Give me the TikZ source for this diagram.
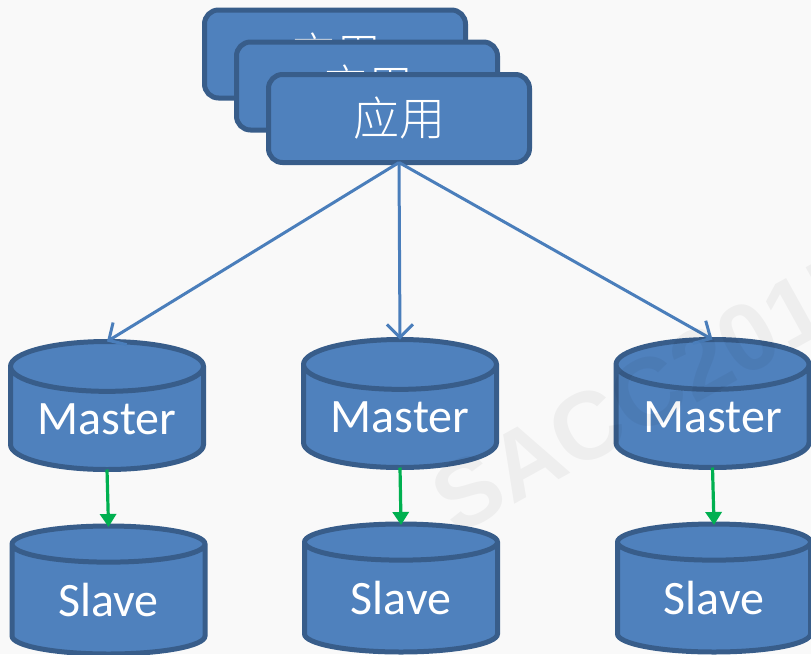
\documentclass[tikz,border=0pt]{standalone}
\usepackage{fontspec}
\setmainfont{Carlito}
\newfontfamily\cjk{Noto Sans CJK SC Light}
\newfontfamily\wm{Liberation Sans}[BoldFont={Liberation Sans Bold}]
\usetikzlibrary{shapes.geometric,arrows.meta}
\definecolor{bfill}{HTML}{4F81BD}
\definecolor{bline}{HTML}{385D8A}
\definecolor{barrow}{HTML}{4A7EBB}
\definecolor{garrow}{HTML}{00B050}
\definecolor{pagebg}{HTML}{F9F9F9}
\tikzset{
  appbox/.style={draw=bline,fill=bfill,line width=5pt,rounded corners=14pt,minimum width=261pt,minimum height=88pt,inner sep=0pt,outer sep=0pt,text=white,font=\cjk\fontsize{46}{46}\selectfont},
  dbcyl/.style={cylinder,shape border rotate=90,aspect=0.36,draw=bline,fill=bfill,line width=5pt,minimum width=193pt,minimum height=128pt,inner sep=0pt,outer sep=0pt,text=white,anchor=shape center,font=\fontsize{48}{48}\selectfont},
  apparrow/.style={draw=barrow,line width=3pt,-{Straight Barb[length=13pt,width=26pt,line width=3pt]}},
  reparrow/.style={draw=garrow,line width=3.2pt,-{Triangle[length=13pt,width=16pt]},shorten >=-1pt}
}
\begin{document}
\begin{tikzpicture}[x=1pt,y=-1pt]
\useasboundingbox (0,0) rectangle (811,654);
\clip (0,0) rectangle (811,654);
\fill[pagebg] (0,0) rectangle (811,654);
\node[appbox] (appA) at (335,54) {应用};
\node[appbox] (appB) at (367,86) {应用};
\node[appbox] (appC) at (399,118.5) {应用};
\node[dbcyl] (m1) at (107,405.5) {Master};
\node[dbcyl] (m2) at (400,403.5) {Master};
\node[dbcyl] (m3) at (712.5,403.5) {Master};
\node[dbcyl] (s1) at (108.5,590) {Slave};
\node[dbcyl] (s2) at (401,588) {Slave};
\node[dbcyl] (s3) at (714,588) {Slave};
\draw[apparrow] (appC.south) -- (m1.north);
\draw[apparrow] (appC.south) -- (m2.north);
\draw[apparrow] (appC.south) -- (m3.north);
\draw[reparrow] (m1.south) -- (s1.north);
\draw[reparrow] (m2.south) -- (s2.north);
\draw[reparrow] (m3.south) -- (s3.north);
\node[rotate=29,anchor=west,text=black,opacity=0.045,font=\wm\bfseries\fontsize{96}{96}\selectfont,inner sep=0pt] (mark) at (440,508) {SACC2017};
\end{tikzpicture}
\end{document}
